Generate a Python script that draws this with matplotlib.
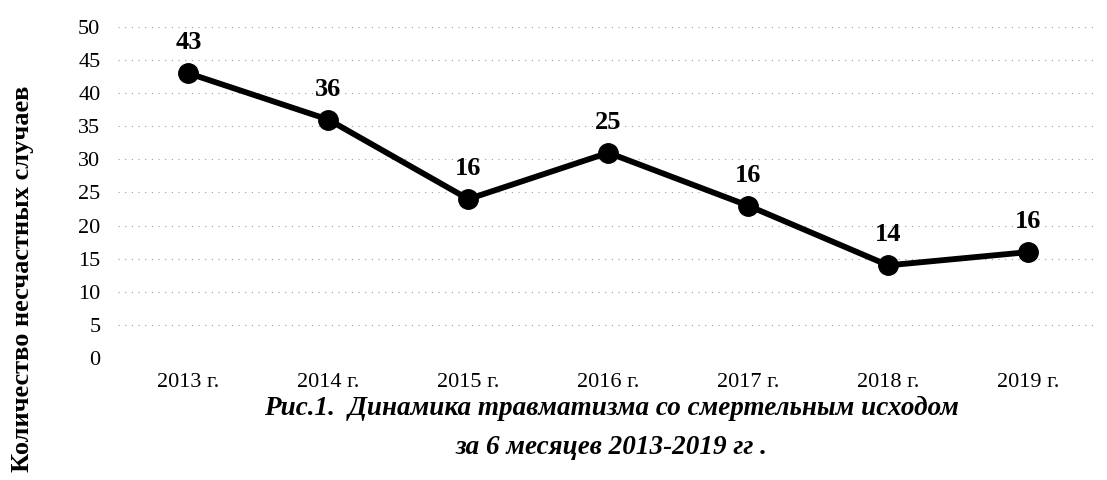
import matplotlib.pyplot as plt
import numpy as np

plt.rcParams['font.family'] = ['Liberation Serif', 'DejaVu Serif']

years = ['2013 г.', '2014 г.', '2015 г.', '2016 г.', '2017 г.', '2018 г.', '2019 г.']
values = [43, 36, 24, 31, 23, 14, 16]          # where the points are drawn
labels = ['43', '36', '16', '25', '16', '14', '16']  # numbers printed above the points

fig = plt.figure(figsize=(11.07, 4.80), dpi=100)
ax = fig.add_axes([0.107, 0.254, 0.885, 0.69])

x = np.arange(len(years))
ax.plot(x, values, color='black', lw=4.2, marker='o', markersize=14, zorder=3)

for xi, v, lab in zip(x, values, labels):
    ax.annotate(lab, (xi, v), xytext=(0, 22), textcoords='offset points',
                ha='center', va='center', fontsize=19, fontweight='bold')

ax.set_xlim(-0.5, len(years) - 0.5)
ax.set_ylim(0, 50)
ax.set_yticks(range(0, 51, 5))
ax.set_xticks(x)
ax.set_xticklabels(years)
ax.tick_params(axis='both', length=0, labelsize=16)
ax.tick_params(axis='y', pad=13)
ax.tick_params(axis='x', pad=11)
ax.grid(axis='y', color='#9a9a9a', linestyle=(0, (1, 5)), lw=0.8)
for s in ax.spines.values():
    s.set_visible(False)

fig.text(0.02, 0.42, 'Количество несчастных случаев', rotation=90,
         ha='center', va='center', fontsize=19, fontweight='bold')

fig.text(0.552, 0.148, 'Рис.1.  Динамика травматизма со смертельным исходом',
         ha='center', va='center', fontsize=19.5, fontweight='bold', style='italic')
fig.text(0.552, 0.068, 'за 6 месяцев 2013-2019 гг .',
         ha='center', va='center', fontsize=19.5, fontweight='bold', style='italic')

fig.savefig('out.png', dpi=100)
